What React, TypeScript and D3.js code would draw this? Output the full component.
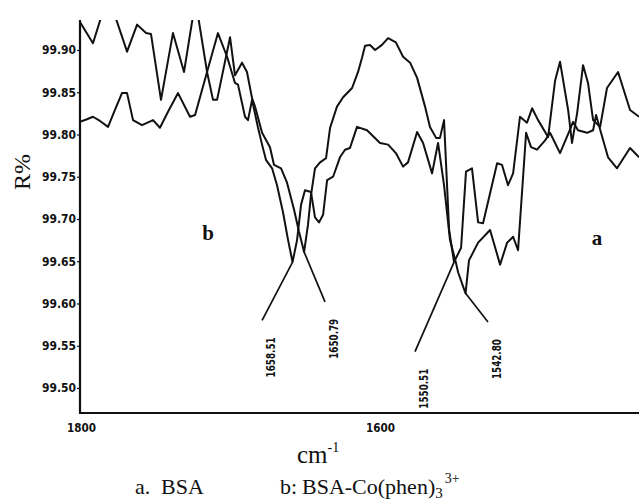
import React, { useEffect, useRef } from "react";
import * as d3 from "d3";

// wavenumber (cm-1), R%
const curveA: [number, number][] = [
  [1800.7, 99.933], [1792.0, 99.908], [1781.9, 99.965], [1769.2, 99.898], [1762.5, 99.93],
  [1756.5, 99.92], [1753.2, 99.919], [1746.5, 99.841], [1738.5, 99.92], [1731.1, 99.874],
  [1723.4, 99.959], [1715.7, 99.874], [1711.7, 99.841], [1709.0, 99.841], [1700.3, 99.915],
  [1697.0, 99.87], [1692.3, 99.885], [1689.0, 99.874], [1685.6, 99.843], [1683.6, 99.833],
  [1678.9, 99.802], [1673.6, 99.785], [1670.9, 99.764], [1666.2, 99.76], [1662.2, 99.743],
  [1657.5, 99.711], [1654.2, 99.685], [1650.79, 99.661], [1648.2, 99.693], [1646.2, 99.728],
  [1643.5, 99.76], [1640.1, 99.767], [1636.1, 99.772], [1633.4, 99.808], [1628.8, 99.833],
  [1624.7, 99.844], [1618.7, 99.855], [1614.7, 99.874], [1612.0, 99.891], [1610.0, 99.905],
  [1606.7, 99.906], [1603.3, 99.9], [1598.7, 99.906], [1594.6, 99.914], [1589.4, 99.909],
  [1584.6, 99.892], [1579.9, 99.885], [1575.2, 99.867], [1569.9, 99.833], [1566.6, 99.809],
  [1562.5, 99.796], [1559.9, 99.796], [1557.2, 99.817], [1553.8, 99.687], [1550.51, 99.649],
  [1545.8, 99.666], [1542.5, 99.756], [1538.5, 99.76], [1534.4, 99.696], [1531.1, 99.695],
  [1521.7, 99.766], [1518.4, 99.764], [1514.4, 99.74], [1511.0, 99.754], [1506.4, 99.821],
  [1501.7, 99.814], [1498.3, 99.831], [1494.3, 99.817], [1487.6, 99.797], [1482.9, 99.864],
  [1479.6, 99.886], [1474.2, 99.829], [1471.6, 99.79], [1468.2, 99.825], [1464.2, 99.882],
  [1460.9, 99.861], [1457.5, 99.817], [1452.8, 99.809], [1448.2, 99.855], [1440.8, 99.874],
  [1432.8, 99.829], [1426.7, 99.821],
];

const curveB: [number, number][] = [
  [1800.7, 99.815], [1796.0, 99.818], [1792.0, 99.821], [1787.3, 99.816], [1781.9, 99.809],
  [1777.3, 99.829], [1772.6, 99.849], [1769.2, 99.849], [1765.2, 99.817], [1759.2, 99.811],
  [1751.8, 99.817], [1747.2, 99.808], [1741.8, 99.827], [1735.1, 99.849], [1727.1, 99.821],
  [1723.7, 99.823], [1715.7, 99.874], [1708.4, 99.92], [1702.3, 99.892], [1697.0, 99.861],
  [1695.0, 99.859], [1690.3, 99.821], [1688.3, 99.817], [1685.6, 99.841], [1681.6, 99.808],
  [1678.9, 99.788], [1676.3, 99.77], [1672.2, 99.76], [1668.9, 99.74], [1664.9, 99.708],
  [1661.5, 99.675], [1658.51, 99.649], [1655.5, 99.675], [1652.8, 99.717], [1650.2, 99.734],
  [1646.2, 99.732], [1643.5, 99.702], [1640.8, 99.696], [1638.1, 99.705], [1635.4, 99.746],
  [1631.4, 99.75], [1626.8, 99.773], [1623.4, 99.782], [1620.1, 99.784], [1615.4, 99.809],
  [1608.7, 99.805], [1600.0, 99.79], [1594.6, 99.788], [1589.4, 99.778], [1584.6, 99.762],
  [1581.3, 99.767], [1575.2, 99.803], [1571.2, 99.79], [1565.2, 99.754], [1561.2, 99.79],
  [1557.2, 99.74], [1553.2, 99.675], [1549.2, 99.648], [1547.8, 99.637], [1542.8, 99.612],
  [1540.5, 99.651], [1534.4, 99.672], [1526.4, 99.687], [1519.7, 99.646], [1515.0, 99.672],
  [1511.0, 99.679], [1507.7, 99.663], [1502.3, 99.802], [1499.0, 99.785], [1495.0, 99.782],
  [1489.6, 99.793], [1486.3, 99.802], [1479.6, 99.778], [1473.6, 99.803], [1470.9, 99.815],
  [1467.6, 99.805], [1461.5, 99.802], [1457.5, 99.805], [1455.5, 99.823], [1452.2, 99.802],
  [1447.5, 99.773], [1441.5, 99.76], [1432.8, 99.784], [1426.7, 99.773],
];

// peak minima with the end of their leader line
const peaks = [
  { label: "1658.51", wn: 1658.51, r: 99.649, endWn: 1678.9, endR: 99.58 },
  { label: "1650.79", wn: 1650.79, r: 99.661, endWn: 1636.8, endR: 99.602 },
  { label: "1550.51", wn: 1550.51, r: 99.649, endWn: 1576.6, endR: 99.543 },
  { label: "1542.80", wn: 1542.8, r: 99.612, endWn: 1527.8, endR: 99.578 },
];

const yTicks = [99.5, 99.55, 99.6, 99.65, 99.7, 99.75, 99.8, 99.85, 99.9];
const xTicks = [1800, 1600];

const W = 639;
const H = 503;
const margin = { top: 20, right: 0, bottom: 90, left: 80 };

const App = () => {
  const svgRef = useRef<SVGSVGElement>(null);

  useEffect(() => {
    const svg = d3.select(svgRef.current);
    svg.selectAll("*").remove();

    const x = d3.scaleLinear().domain([1800.67, 1426.8]).range([margin.left, W - margin.right]);
    const y = d3.scaleLinear().domain([99.4704, 99.9355]).range([H - margin.bottom, margin.top]);

    svg.append("defs").append("clipPath").attr("id", "plot")
      .append("rect")
      .attr("x", margin.left).attr("y", margin.top)
      .attr("width", W - margin.left - margin.right)
      .attr("height", H - margin.top - margin.bottom);

    const line = d3.line<[number, number]>()
      .x(d => x(d[0]))
      .y(d => y(d[1]));

    const g = svg.append("g").attr("clip-path", "url(#plot)");
    [curveA, curveB].forEach(c => {
      g.append("path")
        .attr("d", line(c))
        .attr("fill", "none")
        .attr("stroke", "#111")
        .attr("stroke-width", 2)
        .attr("stroke-linejoin", "round");
    });

    const condensed = "DejaVu Sans Condensed, DejaVu Sans";

    // leader lines and peak labels
    peaks.forEach(p => {
      svg.append("line")
        .attr("x1", x(p.wn)).attr("y1", y(p.r))
        .attr("x2", x(p.endWn)).attr("y2", y(p.endR))
        .attr("stroke", "#111")
        .attr("stroke-width", 1.7);
      const tx = x(p.endWn) + 8;
      const ty = y(p.endR) + 17;
      svg.append("text")
        .attr("transform", `translate(${tx},${ty}) rotate(-90)`)
        .attr("text-anchor", "end")
        .attr("dy", "0.36em")
        .attr("font-family", condensed)
        .attr("font-weight", "bold")
        .attr("font-size", 13)
        .attr("textLength", 40)
        .attr("lengthAdjust", "spacingAndGlyphs")
        .attr("fill", "#111")
        .text(p.label);
    });

    // Y axis
    const yAxis = svg.append("g")
      .attr("transform", `translate(${margin.left},0)`)
      .call(d3.axisLeft(y).tickValues(yTicks).tickSize(3).tickPadding(1).tickFormat(d3.format(".2f")));
    yAxis.select(".domain").attr("stroke", "#111").attr("stroke-width", 2.2)
      .attr("d", `M0,${margin.top}V${H - margin.bottom}`);
    yAxis.selectAll(".tick line").attr("stroke", "#111").attr("stroke-width", 1.2);
    yAxis.selectAll(".tick text")
      .attr("font-family", condensed)
      .attr("font-weight", "bold")
      .attr("font-size", 12)
      .attr("textLength", 34)
      .attr("lengthAdjust", "spacingAndGlyphs")
      .attr("fill", "#111");

    // X axis
    const xAxis = svg.append("g")
      .attr("transform", `translate(0,${H - margin.bottom})`)
      .call(d3.axisBottom(x).tickValues(xTicks).tickSize(0).tickPadding(10).tickFormat(d3.format("d")));
    xAxis.select(".domain").attr("stroke", "#111").attr("stroke-width", 2.2)
      .attr("d", `M${margin.left - 1},0H${W}`);
    xAxis.selectAll(".tick text")
      .attr("font-family", condensed)
      .attr("font-weight", "bold")
      .attr("font-size", 12)
      .attr("textLength", 29)
      .attr("lengthAdjust", "spacingAndGlyphs")
      .attr("fill", "#111");

    const serif = "Liberation Serif, Times New Roman, serif";

    // axis titles
    svg.append("text")
      .attr("transform", `translate(30,172) rotate(-90)`)
      .attr("text-anchor", "middle")
      .attr("font-family", serif)
      .attr("font-size", 24)
      .attr("fill", "#111")
      .text("R%");

    const cm = svg.append("text")
      .attr("x", 297).attr("y", 463)
      .attr("font-family", serif)
      .attr("font-size", 25)
      .attr("fill", "#111");
    cm.append("tspan").text("cm");
    cm.append("tspan").attr("dy", -11).attr("font-size", 14).text("-1");

    // curve labels
    svg.append("text").attr("x", 208).attr("y", 240)
      .attr("text-anchor", "middle").attr("font-family", serif)
      .attr("font-weight", "bold").attr("font-size", 21).attr("fill", "#111").text("b");
    svg.append("text").attr("x", 597).attr("y", 245)
      .attr("text-anchor", "middle").attr("font-family", serif)
      .attr("font-weight", "bold").attr("font-size", 21).attr("fill", "#111").text("a");

    // caption
    const cap = (tx: number, s: string) =>
      svg.append("text").attr("x", tx).attr("y", 494)
        .attr("font-family", serif).attr("font-size", 22).attr("fill", "#111").text(s);
    cap(135, "a.");
    cap(161, "BSA");
    cap(280, "b:");
    const c2 = cap(302, "BSA-Co(phen)");
    c2.append("tspan").attr("dy", 4).attr("font-size", 15).text("3");
    c2.append("tspan").attr("dy", -15).attr("dx", 2).attr("font-size", 14).text("3+");
  }, []);

  return (
    <svg
      ref={svgRef}
      width={W}
      height={H}
      style={{ position: "absolute", left: 0, top: 0, background: "#fff" }}
    />
  );
};

export default App;
